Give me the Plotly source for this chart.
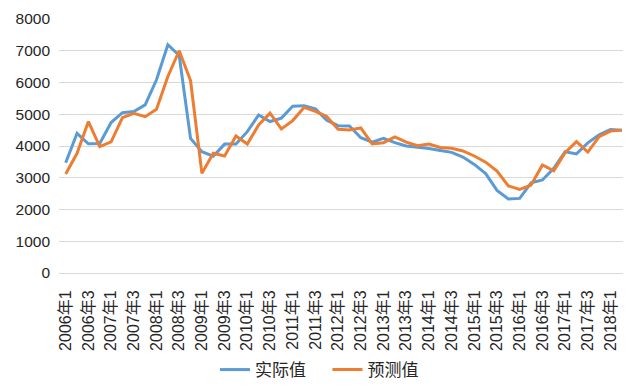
import plotly.graph_objects as go

# quarterly categories 2006Q1 .. 2018Q2
categories = [f"{y}年{q}" for y in range(2006, 2019) for q in (1, 2, 3, 4)][:50]
tick_labels = categories[::2]

actual = [3470, 4400, 4070, 4080, 4740, 5050, 5085, 5295, 6085, 7190,
          6850, 4240, 3820, 3680, 4060, 4060, 4452, 4980, 4770, 4880,
          5250, 5270, 5170, 4810, 4640, 4630, 4260, 4120, 4240, 4105,
          4000, 3970, 3920, 3860, 3800, 3650, 3420, 3130, 2600, 2330,
          2350, 2840, 2930, 3300, 3820, 3750, 4100, 4350, 4520, 4500]

forecast = [3117, 3770, 4770, 3980, 4130, 4895, 5030, 4925, 5160, 6190,
            7000, 6063, 3138, 3770, 3685, 4317, 4064, 4664, 5033, 4538,
            4800, 5215, 5090, 4930, 4527, 4506, 4570, 4064, 4105, 4285,
            4120, 4010, 4064, 3955, 3927, 3845, 3685, 3490, 3210, 2745,
            2630, 2769, 3401, 3221, 3790, 4137, 3810, 4295, 4470, 4500]

series_names = ["实际值", "预测值"]
colors = ["#5B9BD5", "#ED7D31"]
legend_ids = ["legend", "legend2"]

font_family = "Liberation Sans, Arial, Noto Sans CJK SC, sans-serif"

fig = go.Figure()
for name, vals, col, lg in zip(series_names, [actual, forecast], colors, legend_ids):
    fig.add_trace(go.Scatter(
        x=categories, y=vals, mode="lines", name=name,
        line=dict(color=col, width=3, shape="linear"),
        cliponaxis=False, legend=lg,
    ))

legend_common = dict(orientation="h", yanchor="middle", xanchor="left",
                     font=dict(size=17, color="#262626"),
                     bgcolor="rgba(0,0,0,0)", borderwidth=0)

fig.update_layout(
    width=632, height=382,
    margin=dict(l=51, r=17, t=11, b=117, autoexpand=False),
    paper_bgcolor="white", plot_bgcolor="white",
    font=dict(family=font_family, size=16, color="#262626"),
    showlegend=True,
    legend=dict(x=0.2766, y=-0.382, **legend_common),
    legend2=dict(x=0.476, y=-0.382, **legend_common),
    xaxis=dict(
        type="category", categoryorder="array", categoryarray=categories,
        range=[-0.59, 49.1],
        tickmode="array", tickvals=tick_labels, ticktext=tick_labels,
        tickangle=-90, showgrid=False, showline=True,
        linecolor="#D9D9D9", linewidth=1, ticks="",
        ticklabelstandoff=10, tickfont=dict(size=16),
    ),
    yaxis=dict(
        range=[0, 8000], tickvals=[0, 1000, 2000, 3000, 4000, 5000, 6000, 7000, 8000],
        showgrid=True, gridcolor="#D9D9D9", gridwidth=1,
        zeroline=False, showline=False, ticks="",
        ticklabelstandoff=8, tickfont=dict(size=15.5),
    ),
)

fig.write_html("out.html")
